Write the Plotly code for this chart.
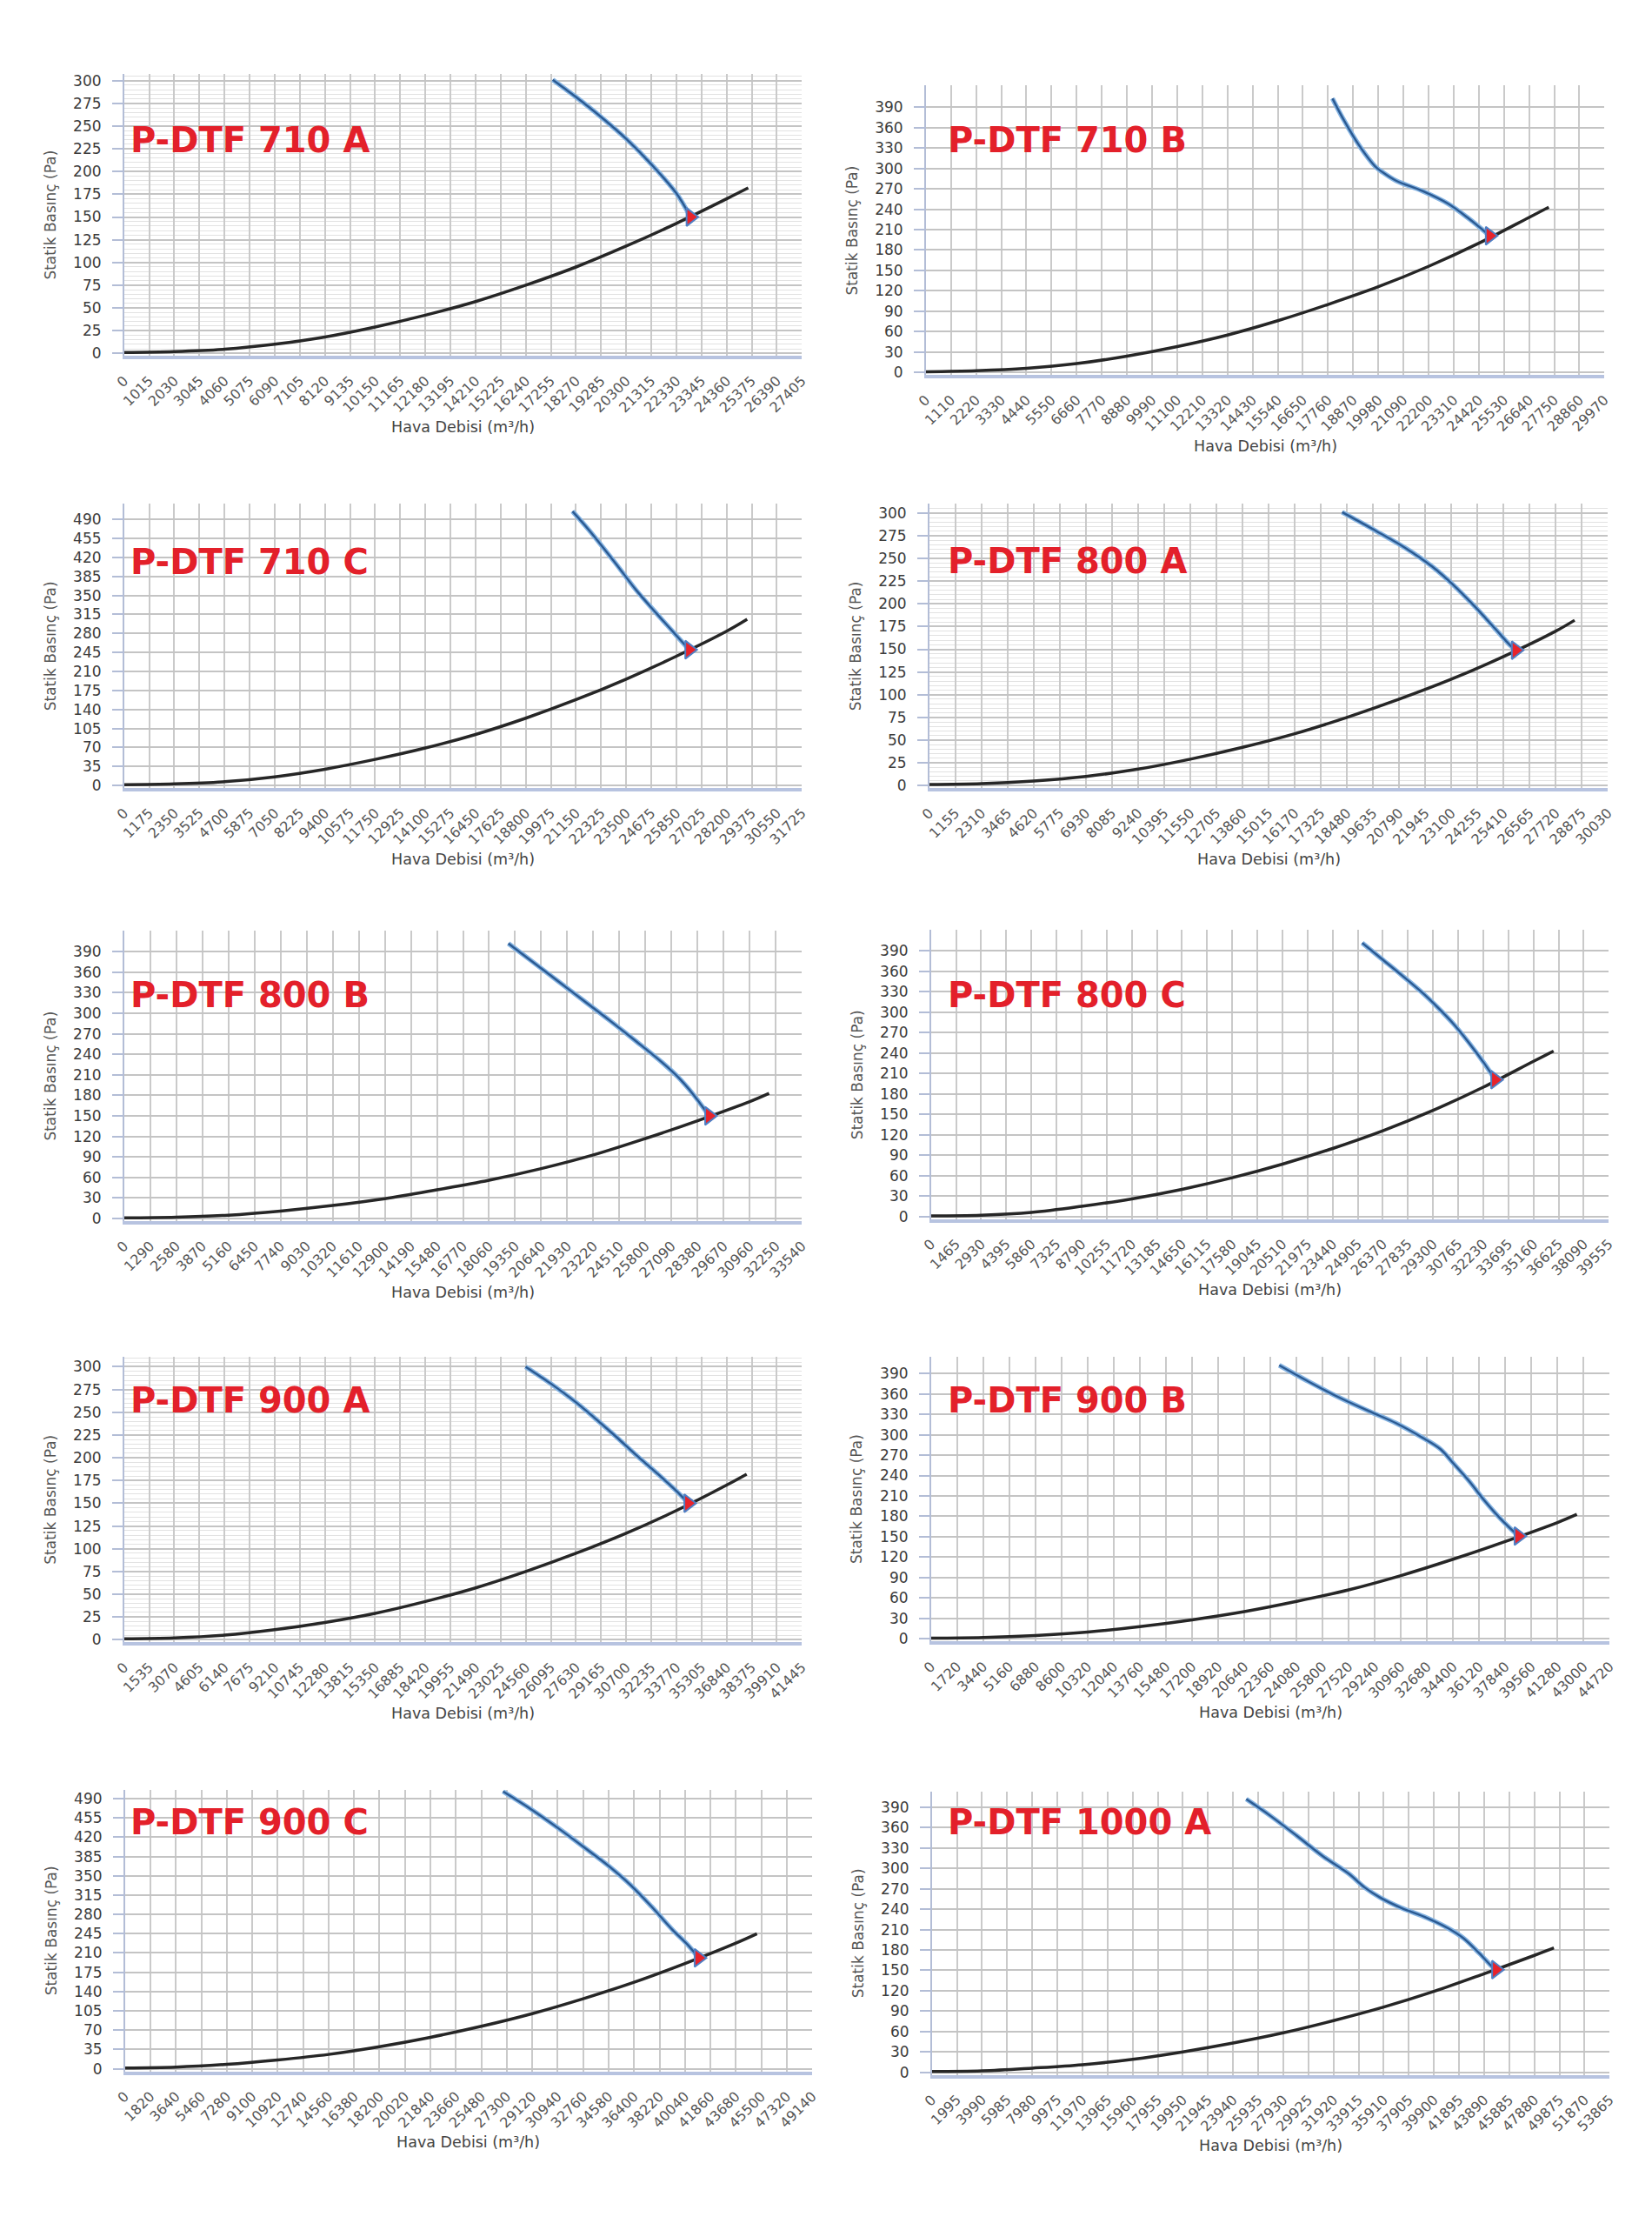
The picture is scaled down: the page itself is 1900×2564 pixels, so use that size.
import plotly.graph_objects as go

# ---------------- data ----------------
names = ["P-DTF 710 A", "P-DTF 710 B", "P-DTF 710 C", "P-DTF 800 A", "P-DTF 800 B",
         "P-DTF 800 C", "P-DTF 900 A", "P-DTF 900 B", "P-DTF 900 C", "P-DTF 1000 A"]
x_steps = [1015, 1110, 1175, 1155, 1290, 1465, 1535, 1720, 1820, 1995]
x_tick_counts = [27, 27, 27, 26, 26, 27, 27, 26, 27, 27]
y_steps = [25, 30, 35, 25, 30, 30, 25, 30, 35, 30]
y_top_ticks = [300, 390, 490, 300, 390, 390, 300, 390, 490, 390]

sys_x_710a = [0, 2030, 4060, 6090, 8120, 10150, 12180, 14210, 16240, 18270, 20300, 22330, 24360, 25234]
sys_y_710a = [1, 2, 4.5, 10, 18, 29, 42, 57, 75, 95, 118, 143, 170, 182]
fan_x_710a = [17330, 18270, 19285, 20300, 21315, 22330, 22900]
fan_y_710a = [301, 282, 260, 236, 208, 176, 150]

sys_x_710b = [0, 2220, 4440, 6660, 8880, 11100, 13320, 15540, 17760, 19980, 22200, 24420, 26640, 27508]
sys_y_710b = [1, 2.5, 6, 13, 24, 38, 55, 76, 100, 126, 156, 190, 228, 243]
fan_x_710b = [17955, 18461, 19152, 19843, 20188, 20764, 21915, 23066, 23986, 24900]
fan_y_710b = [403, 371, 333, 303, 294, 282, 267, 248, 226, 201]

sys_x_710c = [0, 2350, 4700, 7050, 9400, 11750, 14100, 16450, 18800, 21150, 23500, 25850, 28200, 29161]
sys_y_710c = [1.5, 3, 7, 16, 30, 48, 69, 94, 124, 158, 196, 238, 284, 306]
fan_x_710c = [20986, 21767, 22987, 23963, 24939, 25672, 26450]
fan_y_710c = [505, 470, 410, 360, 316, 284, 250]

sys_x_800a = [0, 2310, 4620, 6930, 9240, 11550, 13860, 16170, 18480, 20790, 23100, 25410, 27720, 28554]
sys_y_800a = [1, 2, 5, 10, 18, 29, 42, 57, 75, 95, 117, 142, 170, 182]
fan_x_800a = [18267, 19720, 21104, 22257, 23180, 24102, 25025, 25717, 25950]
fan_y_800a = [301, 281, 261, 241, 221, 198, 173, 154, 149]

sys_x_800b = [0, 2580, 5160, 7740, 10320, 12900, 15480, 18060, 20640, 23220, 25800, 28380, 30960, 31914]
sys_y_800b = [1, 2, 5, 11, 19, 29, 42, 56, 73, 93, 117, 143, 171, 183]
fan_x_800b = [19014, 20175, 21465, 22755, 24046, 25336, 26626, 27400, 28173, 28947]
fan_y_800b = [402, 376, 347, 318, 289, 259, 228, 207, 181, 150]

sys_x_800c = [0, 2930, 5860, 8790, 11720, 14650, 17580, 20510, 23440, 26370, 29300, 32230, 35160, 36330]
sys_y_800c = [1, 2, 6, 15, 26, 40, 57, 77, 100, 126, 156, 190, 228, 243]
fan_x_800c = [25163, 26228, 27445, 28662, 29575, 30488, 31400, 32313, 32921]
fan_y_800c = [402, 380, 355, 329, 307, 283, 255, 224, 201]

sys_x_900a = [0, 3070, 6140, 9210, 12280, 15350, 18420, 21490, 24560, 27630, 30700, 33770, 36840, 38066]
sys_y_900a = [1, 2, 5, 11, 19, 29, 42, 57, 75, 95, 117, 142, 170, 182]
fan_x_900a = [24548, 26206, 27481, 28756, 30031, 31306, 32582, 33857, 34495]
fan_y_900a = [300, 280, 263, 244, 224, 203, 183, 162, 150]

sys_x_900b = [0, 3440, 6880, 10320, 13760, 17200, 20640, 24080, 27520, 30960, 34400, 37840, 41280, 42556]
sys_y_900b = [1, 2, 5, 10, 18, 28, 40, 55, 72, 93, 117, 143, 171, 183]
fan_x_900b = [22944, 24799, 26860, 28921, 30638, 32355, 33557, 34416, 35447, 36477, 37507, 38709]
fan_y_900b = [402, 379, 355, 334, 317, 296, 279, 258, 232, 203, 177, 151]

sys_x_900c = [0, 3640, 7280, 10920, 14560, 18200, 21840, 25480, 29120, 32760, 36400, 40040, 43680, 45188]
sys_y_900c = [1.5, 3, 8, 16, 26, 40, 57, 77, 100, 127, 157, 191, 228, 245]
fan_x_900c = [27031, 29082, 30946, 32810, 34674, 36165, 37657, 39148, 40267, 41012]
fan_y_900c = [503, 470, 437, 402, 366, 333, 294, 252, 224, 201]

sys_x_1000a = [0, 3990, 7980, 11970, 15960, 19950, 23940, 27930, 31920, 35910, 39900, 43890, 47880, 49431]
sys_y_1000a = [1, 2, 6, 11, 19, 30, 43, 58, 76, 96, 119, 145, 172, 183]
fan_x_1000a = [24985, 26933, 29004, 31076, 33148, 34391, 35634, 37291, 39363, 41020, 42263, 43506, 44542, 44832]
fan_y_1000a = [402, 377, 348, 318, 292, 272, 257, 242, 227, 212, 197, 175, 155, 151]

sys_xs = [sys_x_710a, sys_x_710b, sys_x_710c, sys_x_800a, sys_x_800b, sys_x_800c, sys_x_900a, sys_x_900b, sys_x_900c, sys_x_1000a]
sys_ys = [sys_y_710a, sys_y_710b, sys_y_710c, sys_y_800a, sys_y_800b, sys_y_800c, sys_y_900a, sys_y_900b, sys_y_900c, sys_y_1000a]
fan_xs = [fan_x_710a, fan_x_710b, fan_x_710c, fan_x_800a, fan_x_800b, fan_x_800c, fan_x_900a, fan_x_900b, fan_x_900c, fan_x_1000a]
fan_ys = [fan_y_710a, fan_y_710b, fan_y_710c, fan_y_800a, fan_y_800b, fan_y_800c, fan_y_900a, fan_y_900b, fan_y_900c, fan_y_1000a]

# ---------------- layout geometry (page pixels) ----------------
W, H = 1884, 2548
OFF = 8
# left, right, top, y of zero line, y of top tick
geo = [
    (132, 920, 83, 405.7, 91),
    (1064, 1853, 96.7, 427.7, 121.7),
    (132, 920, 579.3, 904.3, 597.3),
    (1068, 1857, 579.3, 904.3, 590),
    (132, 920, 1071.7, 1404, 1096),
    (1070, 1858, 1071, 1401.7, 1095.3),
    (132, 920, 1563.3, 1890, 1575),
    (1070, 1859, 1563, 1889, 1582.7),
    (133, 932, 2063, 2385, 2073.3),
    (1071, 1859, 2065, 2389, 2083.3),
]
title_pos = [(137, 160), (1087, 160), (137, 646.7), (1087, 645), (137, 1146), (1087, 1146),
             (137, 1614), (1087, 1613.5), (137, 2100), (1087, 2100.5)]

def px(x):
    return (x - OFF) / W

def py(y):
    return 1 - (y - OFF) / H

fig = go.Figure()
layout = dict(width=W, height=H, margin=dict(l=0, r=0, t=0, b=0),
              paper_bgcolor="white", plot_bgcolor="white", showlegend=False)
annotations = []

for i in range(10):
    L, R, top, zero, tmax = geo[i]
    sfx = "" if i == 0 else str(i + 1)
    xa, ya = "x" + sfx, "y" + sfx
    ymaxv = y_top_ticks[i]
    scale = (zero - tmax) / ymaxv
    y_hi = (zero - top) / scale
    y_lo = -3.0 / scale
    bottom = zero + 3
    n = x_tick_counts[i]
    step = x_steps[i]
    xt = [k * step for k in range(n + 1)]
    yt = list(range(0, ymaxv + 1, y_steps[i]))

    xax = dict(domain=[px(L), px(R)], range=[0, n * step], anchor=ya,
               tickmode="array", tickvals=xt, ticktext=[str(v) for v in xt],
               tickangle=-45, showgrid=True, gridcolor="#cacaca", gridwidth=1.5,
               zeroline=False, showline=True, linecolor="#b7c3e0", linewidth=4,
               ticks="", ticklabelstandoff=9,
               tickfont=dict(family="DejaVu Sans", size=16, color="#555555"))
    yax = dict(domain=[py(bottom), py(top)], range=[y_lo, y_hi], anchor=xa,
               tickmode="array", tickvals=yt, ticktext=[str(v) for v in yt],
               showgrid=True, gridcolor="#c4c4c4", gridwidth=2,
               zeroline=False, showline=True, linecolor="#b3bdd6", linewidth=1.5,
               ticks="outside", ticklen=12, tickcolor="#b3bdd6", tickwidth=1.5,
               ticklabelstandoff=9,
               tickfont=dict(family="DejaVu Sans", size=17, color="#3c3c3c"))
    if y_steps[i] == 25:
        yax["minor"] = dict(tickmode="linear", tick0=0, dtick=5, showgrid=True,
                            gridcolor="#e2e2e2", gridwidth=1, ticks="")
    layout["xaxis" + sfx] = xax
    layout["yaxis" + sfx] = yax

    fig.add_trace(go.Scatter(x=sys_xs[i], y=sys_ys[i], xaxis=xa, yaxis=ya, mode="lines",
                             line=dict(color="#262626", width=3.5, shape="spline", smoothing=1.0),
                             hoverinfo="skip"))
    fig.add_trace(go.Scatter(x=fan_xs[i], y=fan_ys[i], xaxis=xa, yaxis=ya, mode="lines",
                             line=dict(color="#86b4e2", width=5.5, shape="spline", smoothing=1.0),
                             hoverinfo="skip"))
    fig.add_trace(go.Scatter(x=fan_xs[i], y=fan_ys[i], xaxis=xa, yaxis=ya, mode="lines",
                             line=dict(color="#2b5a92", width=2.4, shape="spline", smoothing=1.0),
                             hoverinfo="skip"))
    fig.add_trace(go.Scatter(x=[fan_xs[i][-1]], y=[fan_ys[i][-1]], xaxis=xa, yaxis=ya, mode="markers",
                             marker=dict(symbol="triangle-right", size=18, color="#e8232b",
                                         line=dict(color="#4f7fc4", width=2)),
                             hoverinfo="skip"))

    tx, ty = title_pos[i]
    annotations.append(dict(text="<b>" + names[i] + "</b>", x=px(tx), y=py(ty), xref="paper", yref="paper",
                            xanchor="left", yanchor="middle", showarrow=False,
                            font=dict(family="DejaVu Sans", size=40, color="#e3202a")))
    annotations.append(dict(text="Statik Basınç (Pa)", x=px(L - 86), y=py((top + bottom) / 2),
                            xref="paper", yref="paper", xanchor="center", yanchor="middle",
                            textangle=-90, showarrow=False,
                            font=dict(family="DejaVu Sans", size=17, color="#555555")))
    annotations.append(dict(text="Hava Debisi (m³/h)", x=px((L + R) / 2), y=py(zero + 85),
                            xref="paper", yref="paper", xanchor="center", yanchor="middle",
                            showarrow=False,
                            font=dict(family="DejaVu Sans", size=17.5, color="#444444")))

layout["annotations"] = annotations
fig.update_layout(**layout)
fig.write_html("out.html")
